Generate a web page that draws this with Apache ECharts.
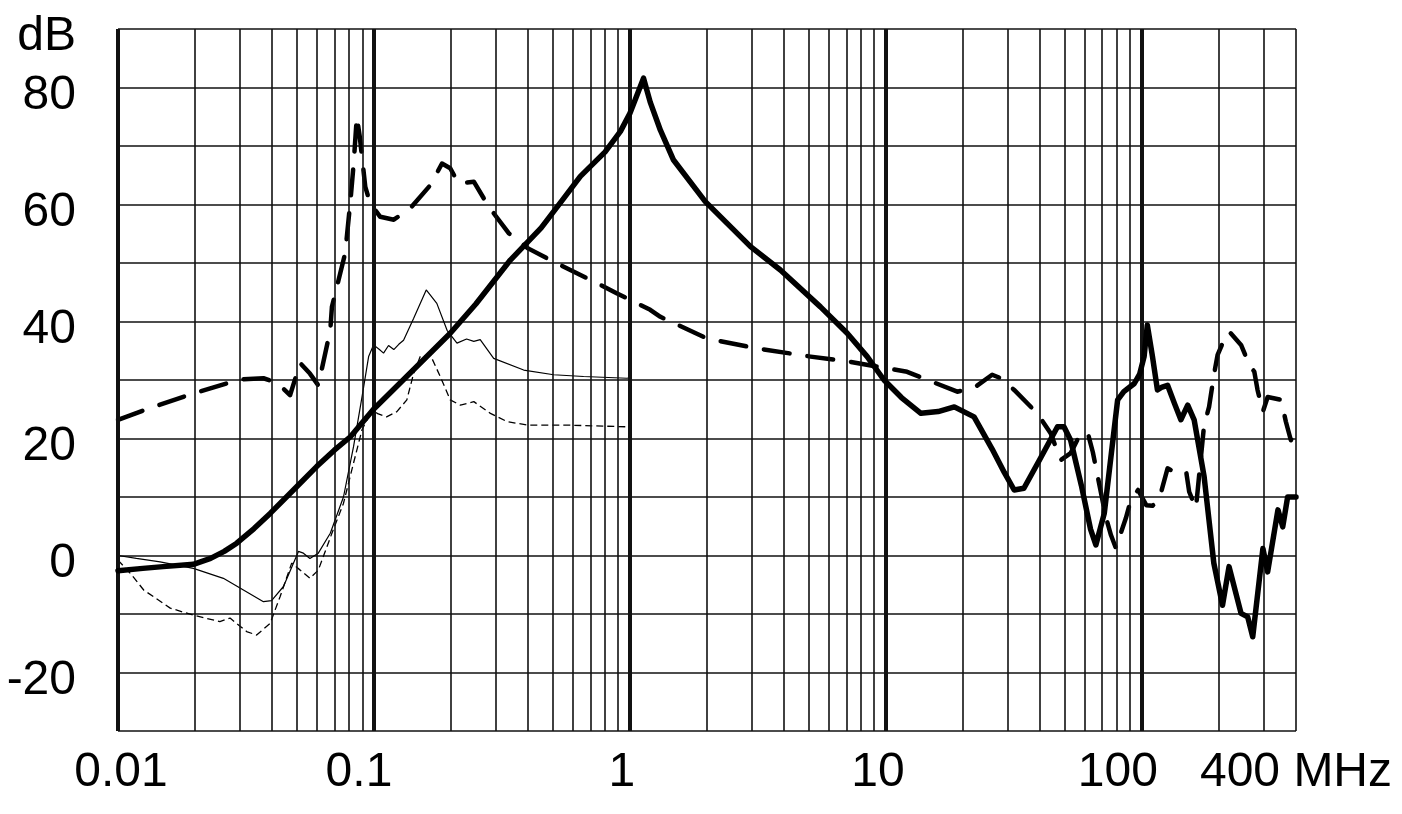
<!DOCTYPE html>
<html>
<head>
<meta charset="utf-8">
<script src="https://cdn.jsdelivr.net/npm/echarts@6/dist/echarts.min.js"></script>
<style>
html,body{margin:0;padding:0;background:#fff;}
#chart{width:1402px;height:814px;}
</style>
</head>
<body>
<div id="chart"></div>
<script>
// ---- DATA (frequency in MHz, level in dB) ----
const solidThick = [[0.01,-2.6],[0.0125,-2.2],[0.015,-1.9],[0.0197,-1.5],[0.023,-0.5],[0.026,0.7],[0.0291,2.1],[0.034,4.6],[0.0393,7.2],[0.05,11.8],[0.0597,15.2],[0.07,18],[0.0809,20.3],[0.0996,25.0],[0.13,30],[0.1986,38],[0.25,43],[0.341,50.5],[0.45,56],[0.55,61],[0.64,64.8],[0.8,69],[0.918,72.5],[1.0,75.6],[1.13,81.6],[1.2,77.5],[1.315,72.7],[1.48,67.6],[1.97,60.5],[2.96,52.8],[3.87,48.8],[5.55,42.5],[7.06,38],[8.45,34],[9.83,30],[11.5,27],[13.7,24.3],[16,24.6],[18.5,25.4],[22.1,23.7],[26,18.2],[29,14.2],[31.7,11.2],[34.6,11.5],[40,16.5],[46.8,22],[49.6,22],[52.7,19.7],[58,12],[63,4.5],[66.1,1.8],[71.3,7.2],[76,17.5],[80.4,26.6],[85,28],[93.4,29.4],[98,31],[102,34],[105,39.4],[110,34],[115,28.3],[120,28.8],[126,29.1],[134,26],[142,23.2],[151,25.7],[160,23.2],[175,13.5],[191,-1.3],[206.5,-8.5],[219,-1.9],[244,-9.9],[259,-10.5],[271,-13.9],[297,1.2],[310,-2.8],[340,7.8],[355,4.9],[371,10],[400,10]];

const dashThick = [[0.01,23.2],[0.0133,25.2],[0.0197,27.7],[0.030,30.1],[0.037,30.3],[0.042,29.5],[0.047,27.4],[0.0515,32.9],[0.0562,31.1],[0.0606,29.1],[0.0675,38.5],[0.0685,42.5],[0.0772,51.7],[0.081,60.8],[0.0833,67],[0.0857,75],[0.088,71.6],[0.0925,63],[0.0967,60.2],[0.1058,57.9],[0.1195,57.4],[0.139,59.4],[0.166,63.3],[0.1844,67],[0.1986,66.2],[0.214,63.6],[0.2455,63.9],[0.281,59.6],[0.336,55.1],[0.40,52.5],[0.489,50.5],[0.585,48.8],[0.68,47.4],[0.891,44.8],[1.2,42],[1.315,40.8],[2.0,37.1],[3.14,35.4],[5.08,34],[7.28,33.1],[12.1,31.4],[19,28],[22,28.6],[26,30.9],[28.1,30.3],[31.7,28.3],[39,24.3],[44,20.9],[48.2,16.3],[52.7,17.5],[57.7,20.9],[61.5,20.9],[64.3,17.7],[68,12.4],[72.3,6.6],[75.7,3.5],[79.1,1.3],[86.6,6.4],[90.6,9.5],[96.6,11.2],[104,8.6],[110,8.5],[116.6,9.5],[126,14.9],[136,14.1],[149,14.3],[153,10.9],[162.6,8.1],[175,22.3],[183,25.4],[191.6,31.1],[197.6,34.3],[210,37],[219,38.3],[244,36],[263,32.6],[275,31.4],[283,28.3],[297,24.6],[310,27.1],[350,26.6],[365,22.9],[382,19.7],[400,21.7]];

const solidThin = [[0.01,0],[0.0118,-0.5],[0.0146,-1.1],[0.0197,-2.2],[0.0258,-3.9],[0.0309,-5.9],[0.037,-7.9],[0.0398,-7.7],[0.0443,-5.3],[0.0507,0.7],[0.053,0.4],[0.0562,-0.5],[0.0606,0.4],[0.0675,3.8],[0.076,10],[0.0832,18.6],[0.0898,27.1],[0.0953,34],[0.0996,36],[0.105,35.2],[0.109,34.6],[0.114,35.9],[0.1195,35.2],[0.125,36.1],[0.1305,36.8],[0.1428,40.5],[0.16,45.4],[0.176,43.1],[0.193,38.5],[0.211,36.3],[0.23,37.0],[0.2455,36.6],[0.26,36.9],[0.2935,33.7],[0.3845,31.7],[0.5035,30.9],[0.659,30.6],[0.975,30.3],[1.0,30.4]];

const dashThin = [[0.01,-0.8],[0.0113,-3.3],[0.0126,-5.9],[0.016,-9],[0.0197,-10.2],[0.025,-11.3],[0.0274,-10.7],[0.0318,-13],[0.0348,-13.6],[0.0393,-11.6],[0.043,-7],[0.0477,-1.3],[0.0515,-2.5],[0.0562,-3.9],[0.0606,-2.5],[0.0685,3.8],[0.076,8.9],[0.0832,15.8],[0.0898,21.5],[0.0967,24.3],[0.1,25.4],[0.1027,24.3],[0.112,23.7],[0.1229,24.6],[0.1344,26.6],[0.1428,31.1],[0.1516,34],[0.166,34.3],[0.1815,30.6],[0.1986,26.6],[0.2176,25.7],[0.2455,26.3],[0.285,24.3],[0.331,22.9],[0.396,22.3],[0.564,22.3],[0.975,22],[1.0,22]];

const xLabelValues = [0.01, 0.1, 1, 10, 100, 400];
const xLabelText = ['0.01', '0.1', '1', '10', '100', '400 MHz'];
const yUnit = 'dB';

// ---- gridline positions (log decades, 1..9 per decade) ----
const fMin = 0.01, fMax = 400;
const gridMarks = [];
for (let d = -2; d <= 2; d++) {
  for (let m = 1; m <= 9; m++) {
    const f = m * Math.pow(10, d);
    if (f <= fMax * 1.0001) {
      gridMarks.push({ xAxis: f, lineStyle: { width: m === 1 ? 4 : 1.6 } });
    }
  }
}

const FONT = 'Liberation Sans, Arial, sans-serif';
const rich = {};
const shifts = [6, -30, -16, -16, -48, 0]; // padding to nudge label positions
xLabelText.forEach((t, i) => {
  const s = shifts[i];
  rich['s' + i] = {
    fontSize: 48, fontFamily: FONT, color: '#000',
    padding: s >= 0 ? [0, 0, 0, s] : [0, -s, 0, 0]
  };
});

const chart = echarts.init(document.getElementById('chart'), null, { renderer: 'canvas' });
chart.setOption({
  animation: false,
  backgroundColor: '#fff',
  grid: { left: 118, right: 106, top: 29, bottom: 83, containLabel: false },
  xAxis: {
    type: 'log',
    logBase: 10,
    min: fMin,
    max: fMax,
    axisLine: { show: false },
    axisTick: { show: false },
    splitLine: { show: false },
    axisLabel: {
      show: true,
      margin: 18,
      showMinLabel: true,
      showMaxLabel: true,
      fontSize: 48,
      fontFamily: FONT,
      color: '#000',
      formatter: function (v) {
        for (let i = 0; i < xLabelValues.length; i++) {
          if (Math.abs(Math.log10(v) - Math.log10(xLabelValues[i])) < 0.01) {
            return '{s' + i + '|' + xLabelText[i] + '}';
          }
        }
        return '';
      },
      rich: rich
    }
  },
  yAxis: {
    type: 'value',
    min: -30,
    max: 90,
    interval: 10,
    axisLine: { show: false },
    axisTick: { show: false },
    splitLine: { show: true, lineStyle: { color: '#111', width: 1.6 } },
    axisLabel: {
      margin: 42,
      fontSize: 48,
      fontFamily: FONT,
      color: '#000',
      verticalAlign: 'top',
      lineHeight: 16,
      showMinLabel: true,
      showMaxLabel: true,
      formatter: function (v) {
        if (Math.abs(v - 90) < 1e-6) return yUnit;
        if (Math.abs(v % 20) < 1e-6) return String(v);
        return '';
      }
    }
  },
  series: [
    {
      type: 'line',
      data: [[fMin, -30]],
      showSymbol: false,
      lineStyle: { opacity: 0 },
      z: 1,
      silent: true,
      markLine: {
        silent: true,
        symbol: ['none', 'none'],
        label: { show: false },
        lineStyle: { color: '#111', type: 'solid' },
        data: gridMarks
      }
    },
    {
      type: 'line', data: dashThin, showSymbol: false, z: 3,
      lineStyle: { color: '#000', width: 1.3, type: [7, 4] }
    },
    {
      type: 'line', data: solidThin, showSymbol: false, z: 3,
      lineStyle: { color: '#000', width: 1.2 }
    },
    {
      type: 'line', data: dashThick, showSymbol: false, z: 4,
      lineStyle: { color: '#000', width: 4.5, type: [26, 18], cap: 'round', join: 'round' }
    },
    {
      type: 'line', data: solidThick, showSymbol: false, z: 5,
      lineStyle: { color: '#000', width: 5.5, cap: 'round', join: 'round' }
    }
  ]
});
</script>
</body>
</html>
